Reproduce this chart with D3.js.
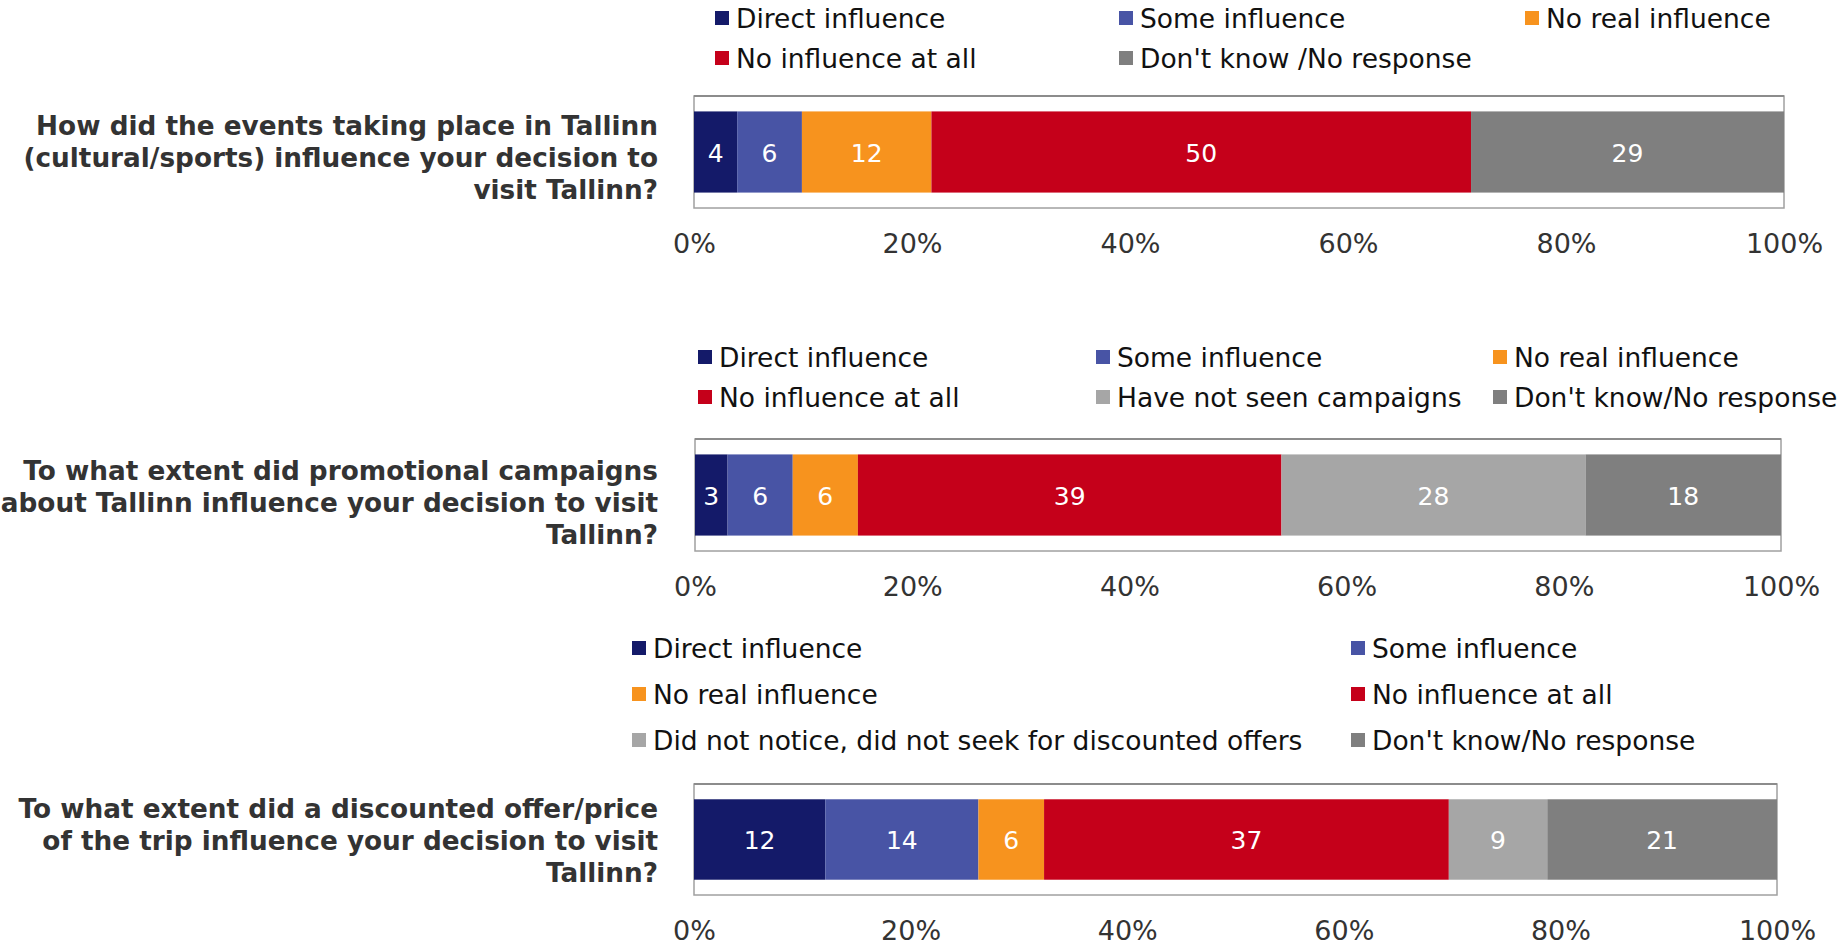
<!DOCTYPE html>
<html>
<head>
<meta charset="utf-8">
<script src="https://cdn.jsdelivr.net/npm/d3@7"></script>
<style>
  html, body { margin: 0; padding: 0; background: #fff; }
  svg { display: block; font-family: "DejaVu Sans", Verdana, sans-serif; }
</style>
</head>
<body>
<svg id="chart" width="1848" height="945"></svg>
<script>
// ---- Survey data (shares of respondents, %) ----
const eventsQuestion = ["How did the events taking place in Tallinn", "(cultural/sports) influence your decision to", "visit Tallinn?"];
const eventsSeries = ["Direct influence", "Some influence", "No real influence", "No influence at all", "Don't know /No response"];
const eventsValues = [4, 6, 12, 50, 29];

const campaignQuestion = ["To what extent did promotional campaigns", "about Tallinn influence your decision to visit", "Tallinn?"];
const campaignSeries = ["Direct influence", "Some influence", "No real influence", "No influence at all", "Have not seen campaigns", "Don't know/No response"];
const campaignValues = [3, 6, 6, 39, 28, 18];

const discountQuestion = ["To what extent did a discounted offer/price", "of the trip influence your decision to visit", "Tallinn?"];
const discountSeries = ["Direct influence", "Some influence", "No real influence", "No influence at all", "Did not notice, did not seek for discounted offers", "Don't know/No response"];
const discountValues = [12, 14, 6, 37, 9, 21];

const tickValues = [0, 0.2, 0.4, 0.6, 0.8, 1];

// Colour per answer category
const categoryColors = {
  "Direct influence": "#141a69",
  "Some influence": "#4854a5",
  "No real influence": "#f7931e",
  "No influence at all": "#c5001a",
  "Have not seen campaigns": "#a6a6a6",
  "Did not notice, did not seek for discounted offers": "#a6a6a6",
  "Don't know /No response": "#7f7f7f",
  "Don't know/No response": "#7f7f7f"
};

const svg = d3.select("#chart");

// One 100%-stacked bar with its own legend, question label and axis
function drawPanel(cfg) {
  const { question, series, values, frame, legend } = cfg;
  const g = svg.append("g");

  const row = {};
  series.forEach((s, i) => { row[s] = values[i]; });
  const stacked = d3.stack().keys(series).offset(d3.stackOffsetExpand)([row]);

  const band = question.join(" ");
  const x = d3.scaleLinear().domain([0, 1]).range([frame.x0, frame.x1]);
  const y = d3.scaleBand().domain([band])
    .range([frame.y0, frame.y1]).paddingOuter(0.19).paddingInner(0);

  // plot-area frame
  g.append("rect")
    .attr("x", frame.x0).attr("y", frame.y0)
    .attr("width", frame.x1 - frame.x0).attr("height", frame.y1 - frame.y0)
    .attr("fill", "#fff").attr("stroke", "#a0a0a0").attr("stroke-width", 1.5);
  g.append("line")
    .attr("x1", frame.x0).attr("x2", frame.x1)
    .attr("y1", frame.y0).attr("y2", frame.y0)
    .attr("stroke", "#8c8c8c").attr("stroke-width", 2);

  // segments
  const seg = g.selectAll("g.seg").data(stacked).join("g").attr("class", "seg");
  seg.append("rect")
    .attr("x", d => x(d[0][0]))
    .attr("y", y(band))
    .attr("width", d => x(d[0][1]) - x(d[0][0]))
    .attr("height", y.bandwidth())
    .attr("fill", d => categoryColors[d.key]);
  seg.append("text")
    .attr("x", d => (x(d[0][0]) + x(d[0][1])) / 2)
    .attr("y", y(band) + y.bandwidth() / 2 + 1)
    .attr("text-anchor", "middle")
    .attr("dominant-baseline", "central")
    .attr("fill", "#fff")
    .attr("font-size", 25)
    .text(d => d[0].data[d.key]);

  // question label, right-aligned left of the bar
  const qText = g.append("text")
    .attr("text-anchor", "end")
    .attr("font-weight", "bold")
    .attr("font-size", 26.3)
    .attr("fill", "#333");
  const midY = y(band) + y.bandwidth() / 2 + cfg.qShift;
  question.forEach((line, i) => {
    qText.append("tspan")
      .attr("x", 658)
      .attr("y", midY + (i - 1) * 32)
      .attr("dominant-baseline", "central")
      .text(line);
  });

  // percentage axis
  const axis = g.append("g")
    .attr("transform", `translate(0,${frame.y1 + 24})`)
    .call(d3.axisBottom(x).tickValues(tickValues).tickFormat(d3.format(".0%")).tickSize(0));
  axis.select(".domain").remove();
  axis.selectAll("text")
    .attr("font-family", "DejaVu Sans, Verdana, sans-serif")
    .attr("font-size", 27)
    .attr("fill", "#333")
    .attr("dy", "0.32em")
    .attr("y", 12);

  // legend grid
  const items = g.selectAll("g.legend").data(series).join("g").attr("class", "legend")
    .attr("transform", (d, i) => `translate(${legend.cols[i % legend.cols.length]},${legend.rows[Math.floor(i / legend.cols.length)]})`);
  items.append("rect")
    .attr("x", 0).attr("y", -7).attr("width", 14).attr("height", 14)
    .attr("fill", d => categoryColors[d]);
  items.append("text")
    .attr("x", 21).attr("y", 0)
    .attr("dominant-baseline", "central")
    .attr("font-size", 26.5)
    .attr("fill", "#111")
    .text(d => d);
}

drawPanel({
  question: eventsQuestion, series: eventsSeries, values: eventsValues,
  frame: { x0: 694, x1: 1784, y0: 96, y1: 208 },
  legend: { cols: [715, 1119, 1525], rows: [18, 58] },
  qShift: 6
});
drawPanel({
  question: campaignQuestion, series: campaignSeries, values: campaignValues,
  frame: { x0: 695, x1: 1781, y0: 439, y1: 551 },
  legend: { cols: [698, 1096, 1493], rows: [357, 397] },
  qShift: 8
});
drawPanel({
  question: discountQuestion, series: discountSeries, values: discountValues,
  frame: { x0: 694, x1: 1777, y0: 784, y1: 895 },
  legend: { cols: [632, 1351], rows: [648, 694, 740] },
  qShift: 1.5
});
</script>
</body>
</html>
